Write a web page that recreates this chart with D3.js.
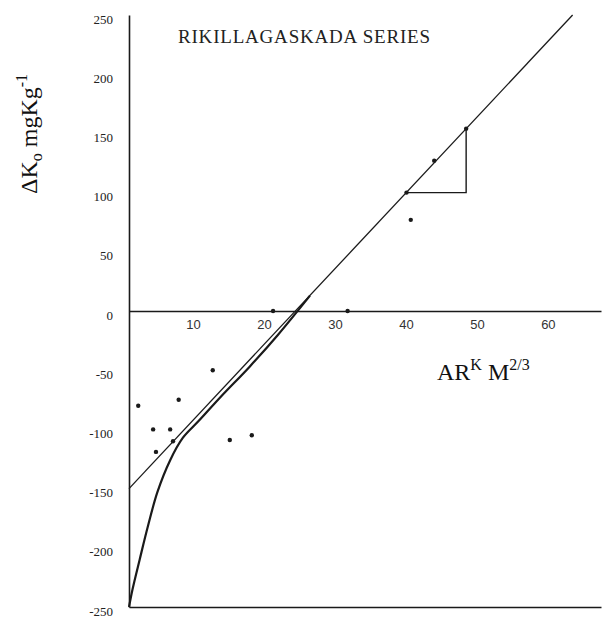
<!DOCTYPE html>
<html>
<head>
<meta charset="utf-8">
<script src="https://cdn.jsdelivr.net/npm/d3@7/dist/d3.min.js"></script>
<style>
  html, body { margin: 0; padding: 0; background: #fff; }
  svg { display: block; }
</style>
</head>
<body>
<div id="chart"></div>
<script>
// Quantity-intensity relation for the Rikillagaskada soil series
const chartTitle = "RIKILLAGASKADA SERIES";

const xTicks = [10, 20, 30, 40, 50, 60];
const yTicks = [250, 200, 150, 100, 50, 0, -50, -100, -150, -200, -250];

// observed points (AR^K M^2/3, ΔKo)
const pointX = [1.3, 7.0, 11.8, 3.4, 5.8, 6.2, 3.8, 14.2, 17.3, 20.3, 30.8, 39.7, 43.0, 39.1, 47.5];
const pointY = [-80, -75, -50, -100, -100, -110, -119, -109, -105, 0, 0, 77, 127, 100, 154];

// straight-line fit through the linear part
const fitX = [0, 62.5];
const fitY = [-150, 250];

// curved part of the Q/I relation
const curveX = [0, 0.5, 1.5, 2.7, 4.0, 5.8, 7.6, 9.8, 13.0, 17.0, 21.0, 25.5];
const curveY = [-250, -235, -210, -181, -153, -126, -107, -93, -72, -47, -20, 13];

// slope triangle (run then rise)
const triX = [39.1, 47.5, 47.5];
const triY = [100, 100, 154];

const W = 606, H = 621;
const ink = "#1a1a1a";
const serif = "'Liberation Serif', 'Times New Roman', serif";

const svg = d3.select("#chart").append("svg")
  .attr("width", W).attr("height", H);

const x = d3.scaleLinear().domain([0, 66.5]).range([129, 601]);
const y = d3.scaleLinear().domain([-250, 250]).range([607, 15]);

// vertical axis with its labels
const yAxis = svg.append("g")
  .attr("transform", `translate(${x(0)},0)`)
  .call(d3.axisLeft(y).tickValues(yTicks).tickSize(0).tickSizeOuter(0).tickPadding(16)
        .tickFormat(d => String(d)));
yAxis.attr("font-family", serif).attr("font-size", 13);
yAxis.select(".domain").attr("stroke", ink).attr("stroke-width", 1.6);
yAxis.selectAll("text")
  .style("font-family", serif)
  .style("font-size", "13px")
  .attr("fill", "#222")
  .attr("transform", "translate(0,4)");

// horizontal axis at ΔKo = 0
const xAxis = svg.append("g")
  .attr("transform", `translate(0,${y(0)})`)
  .call(d3.axisBottom(x).tickValues(xTicks).tickSize(0).tickSizeOuter(0).tickPadding(9));
xAxis.select(".domain").attr("stroke", ink).attr("stroke-width", 1.6);
xAxis.selectAll("text")
  .style("font-family", "'Liberation Sans', Arial, sans-serif")
  .style("font-size", "13px")
  .attr("fill", "#333")
  .attr("dx", -7);

// baseline along the bottom of the frame
const xBase = svg.append("g")
  .attr("transform", `translate(0,${y(-250)})`)
  .call(d3.axisBottom(x).tickValues([]).tickSizeOuter(0));
xBase.select(".domain").attr("stroke", ink).attr("stroke-width", 1.4);

// fitted straight line
svg.append("path")
  .datum(d3.zip(fitX, fitY))
  .attr("d", d3.line().x(d => x(d[0])).y(d => y(d[1])))
  .attr("fill", "none").attr("stroke", ink).attr("stroke-width", 1.3);

// curve
svg.append("path")
  .datum(d3.zip(curveX, curveY))
  .attr("d", d3.line().x(d => x(d[0])).y(d => y(d[1])).curve(d3.curveCatmullRom.alpha(0.5)))
  .attr("fill", "none").attr("stroke", ink).attr("stroke-width", 2.2);

// slope triangle
svg.append("path")
  .datum(d3.zip(triX, triY))
  .attr("d", d3.line().x(d => x(d[0])).y(d => y(d[1])))
  .attr("fill", "none").attr("stroke", ink).attr("stroke-width", 1.4);

// points
svg.append("g").selectAll("circle")
  .data(d3.zip(pointX, pointY))
  .join("circle")
  .attr("cx", d => x(d[0]))
  .attr("cy", d => y(d[1]))
  .attr("r", 2.2)
  .attr("fill", ink);

// title
svg.append("text")
  .attr("x", 178).attr("y", 43)
  .attr("textLength", 252)
  .attr("lengthAdjust", "spacing")
  .attr("font-family", serif)
  .attr("font-size", 19)
  .attr("fill", "#222")
  .text(chartTitle);

// y-axis title: ΔKo mgKg-1
const yTitle = svg.append("text")
  .attr("transform", "translate(37,134) rotate(-90)")
  .attr("text-anchor", "middle")
  .attr("font-family", serif)
  .attr("font-size", 24)
  .attr("fill", "#111");
yTitle.append("tspan").text("ΔK");
yTitle.append("tspan").attr("font-size", 16).attr("dy", 5).text("o");
yTitle.append("tspan").attr("dy", -5).text(" mgKg");
yTitle.append("tspan").attr("font-size", 16).attr("dy", -10).text("-1");

// x-axis title: AR^K M^2/3
const xTitle = svg.append("text")
  .attr("x", 437).attr("y", 380)
  .attr("font-family", serif)
  .attr("font-size", 24)
  .attr("fill", "#111");
xTitle.append("tspan").text("AR");
xTitle.append("tspan").attr("font-size", 16).attr("dy", -10).text("K");
xTitle.append("tspan").attr("dy", 10).text(" M");
xTitle.append("tspan").attr("font-size", 16).attr("dy", -10).text("2/3");
</script>
</body>
</html>
